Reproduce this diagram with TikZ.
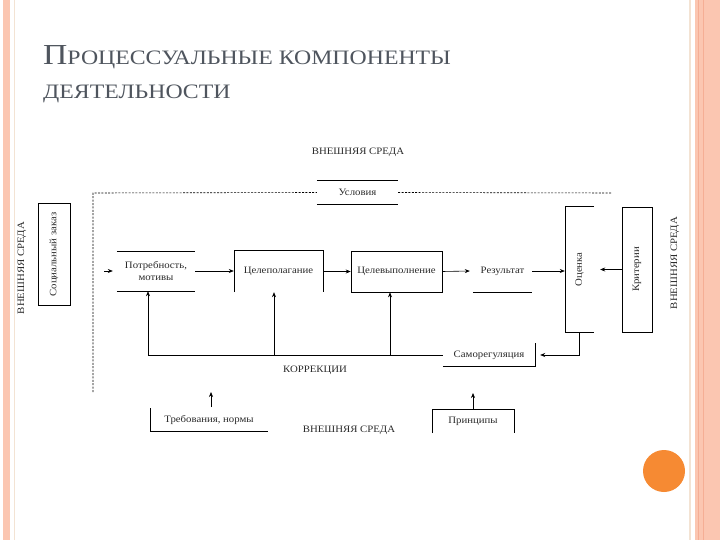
\documentclass[tikz,border=0pt]{standalone}
\usepackage{fontspec}
\setmainfont{Liberation Serif}
\newfontfamily\titlefont[FakeStretch=1.16]{Liberation Serif}
\newfontfamily\diafont[FakeStretch=1.1]{Liberation Serif}
\usetikzlibrary{arrows.meta}
\definecolor{salmon}{HTML}{FBC6B1}
\definecolor{salmondk}{HTML}{F5AE95}
\definecolor{cream}{HTML}{F3E3D3}
\definecolor{titlegray}{HTML}{4F555E}
\definecolor{dotorange}{HTML}{F68A33}
\definecolor{txtgray}{HTML}{2A2A2A}
\tikzset{
  lbl/.style={font=\diafont\fontsize{9.8}{11}\selectfont, text=txtgray, inner sep=0pt, align=center},
  blk/.style={lbl, draw=black, line width=0.6pt},
  frame/.style={lbl},
  ln/.style={draw=black, line width=0.6pt},
  arr/.style={ln, -{Stealth[length=5pt,width=4pt]}},
  envline/.style={line width=0.6pt, dash pattern=on 2pt off 1.4pt},
}
\begin{document}
\begin{tikzpicture}[x=1pt,y=-1pt]
\useasboundingbox (0,0) rectangle (720,540);
\fill[white] (0,0) rectangle (720,540);
% slide borders
\fill[salmon] (3,0) rectangle (10,540);
\draw[cream, line width=1pt] (14,0) -- (14,540);
\fill[salmon] (695,0) rectangle (720,540);
\draw[cream, line width=1.2pt] (690,0) -- (690,540);
\draw[salmondk, line width=0.8pt] (698,0) -- (698,540);
\draw[salmondk, line width=0.8pt] (703,0) -- (703,540);
% title
\node[anchor=base west, inner sep=0pt, text=titlegray, font=\titlefont] (t1) at (43,65)
  {{\fontsize{29}{29}\selectfont П}{\fontsize{20.5}{20.5}\selectfont РОЦЕССУАЛЬНЫЕ КОМПОНЕНТЫ}};
\node[anchor=base west, inner sep=0pt, text=titlegray, font=\titlefont] (t2) at (43,99)
  {\fontsize{20.5}{20.5}\selectfont ДЕЯТЕЛЬНОСТИ};
% environment labels
\node[lbl] (envtop) at (358,152) {ВНЕШНЯЯ СРЕДА};
\node[lbl] (envbot) at (349,430) {ВНЕШНЯЯ СРЕДА};
\node[lbl, rotate=90] (envleft) at (22,268) {ВНЕШНЯЯ СРЕДА};
\node[lbl, rotate=90] (envright) at (675,263) {ВНЕШНЯЯ СРЕДА};
% nodes
\node[frame, minimum width=81pt, minimum height=23pt] (usl) at (357.5,192.5) {Условия};
\draw[ln] (usl.north west) -- (usl.north east);
\draw[ln] (usl.south west) -- (usl.south east);
\node[blk, rotate=90, minimum width=102pt, minimum height=32pt] (soc) at (54,254.5) {Социальный заказ};
\node[frame, minimum width=78pt, minimum height=40pt] (potr) at (156,271) {Потребность,\\[1pt]мотивы};
\draw[ln] (potr.north west) -- (potr.north east);
\draw[ln] (potr.south west) -- (potr.south east);
\node[frame, minimum width=89pt, minimum height=42pt] (tsp) at (278.5,271) {Целеполагание};
\draw[ln] (tsp.south west) -- (tsp.north west) -- (tsp.north east) -- (tsp.south east);
\node[blk, minimum width=91pt, minimum height=41pt] (tsv) at (396.5,271.5) {Целевыполнение};
\node[frame, minimum width=59pt, minimum height=42pt] (res) at (502.5,271) {Результат};
\draw[ln] (res.south west) -- (res.south east);
\node[frame, rotate=90, minimum width=125pt, minimum height=29pt] (ots) at (579.5,269.5) {Оценка};
% rotated node: SE=top-right, NE=top-left, NW=bottom-left, SW=bottom-right
\draw[ln] (ots.south east) -- (ots.north east) -- (ots.north west) -- (ots.south west);
\node[blk, rotate=90, minimum width=125pt, minimum height=30pt] (krit) at (637,269.5) {Критерии};
\node[frame, minimum width=92pt, minimum height=23pt] (samo) at (489,355) {Саморегуляция};
\draw[ln] (samo.south west) -- (samo.south east) -- (samo.north east);
\node[lbl] (korr) at (315,370) {КОРРЕКЦИИ};
\node[frame, minimum width=118pt, minimum height=23pt] (treb) at (209,420) {Требования, нормы};
\draw[ln] (treb.north west) -- (treb.south west) -- (treb.south east);
\node[frame, minimum width=82pt, minimum height=24pt] (prin) at (473,421) {Принципы};
\draw[ln] (prin.south west) -- (prin.north west) -- (prin.north east) -- (prin.south east);
% dashed environment boundary
\coordinate (dtl) at (93,193);
\coordinate (dtr) at (612,193);
\coordinate (dbl) at (93,392);
\draw[envline] (dbl) -- (dtl) -- (usl.west);
\draw[envline] (usl.east) -- (dtr);
% main chain
\coordinate (inl) at (104,271);
\draw[arr] (inl) -- ([xshift=-4pt]potr.west);
\draw[arr] (potr.east) -- (tsp.west);
\draw[arr] (tsv.west -| tsp.east) -- (tsv.west);
\draw[arr] (tsv.east) -- ([xshift=-3pt]res.west);
\draw[arr] (res.east) -- (res.east -| ots.north);
\draw[arr] (krit.north) -- ([xshift=6pt]ots.south |- krit.north);
% feedback
\coordinate (f1) at (148,355);
\coordinate (f2) at (274,355);
\coordinate (f3) at (390,355);
\draw[ln] (f1) -- (samo.west);
\draw[arr] (f1) -- (f1 |- potr.south);
\draw[arr] (f2) -- (f2 |- tsp.south);
\draw[arr] (f3) -- (f3 |- tsv.south);
\draw[arr, shorten >=5pt] (ots.west) |- (samo.east);
% external inputs
\coordinate (r1) at (211,407);
\coordinate (r2) at (211,392);
\draw[arr] (r1) -- (r2);
\coordinate (p2) at (473,393);
\draw[arr] (prin.north) -- (p2);
% decorative dot
\fill[dotorange] (664,471) circle (21);
\end{tikzpicture}
\end{document}
